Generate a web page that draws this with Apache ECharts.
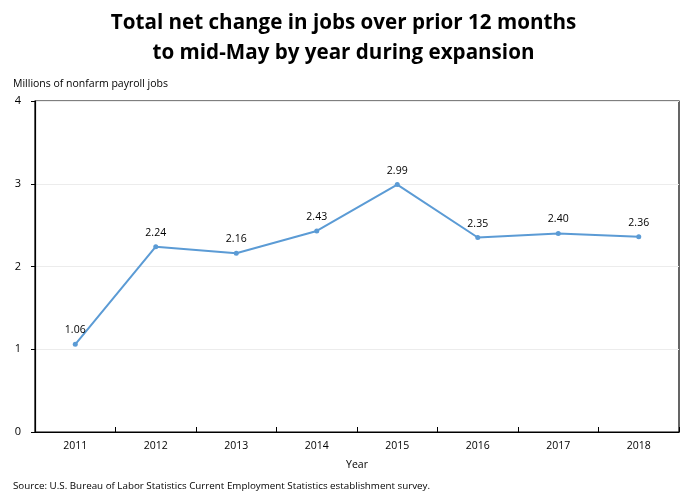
<!DOCTYPE html>
<html><head><meta charset="utf-8">
<script src="https://cdn.jsdelivr.net/npm/echarts@6/dist/echarts.min.js"></script>
<style>html,body{margin:0;padding:0;background:#fff}#c{width:687px;height:498px}</style>
</head><body><div id="c"></div>
<script>
var years = ['2011','2012','2013','2014','2015','2016','2017','2018'];
var jobs = [1.06, 2.24, 2.16, 2.43, 2.99, 2.35, 2.40, 2.36];
var yTicks = [0, 1, 2, 3, 4];
var F = '"Open Sans", "Noto Sans", sans-serif';
var chart = echarts.init(document.getElementById('c'), null, {renderer:'canvas'});
chart.setOption({
  animation:false,
  backgroundColor:'#fff',
  title:[{
    text:'Total net change in jobs over prior 12 months\nto mid-May by year during expansion',
    left:'center', top:3,
    textStyle:{fontFamily:F, fontSize:20.6, fontWeight:'bold', color:'#000', lineHeight:30}
  },{
    text:'Millions of nonfarm payroll jobs', left:8, top:74,
    textStyle:{fontFamily:F, fontSize:10.5, fontWeight:'normal', color:'#000'}
  },{
    text:'Source: U.S. Bureau of Labor Statistics Current Employment Statistics establishment survey.',
    left:8, top:476,
    textStyle:{fontFamily:F, fontSize:9.8, fontWeight:'normal', color:'#000'}
  }],
  grid:{left:35, right:8, top:101, bottom:66, show:true, borderColor:'#000', borderWidth:1.2, backgroundColor:'transparent'},
  xAxis:{
    type:'category', data:years, boundaryGap:true,
    name:'Year', nameLocation:'middle', nameGap:28,
    nameTextStyle:{fontFamily:F, fontSize:10.5, color:'#000'},
    axisLine:{lineStyle:{color:'#000', width:1.2}},
    axisTick:{show:true, inside:true, length:5, lineStyle:{color:'#000'}},
    axisLabel:{fontFamily:F, fontSize:10.5, color:'#000', margin:9}
  },
  yAxis:{
    type:'value', min:yTicks[0], max:yTicks[yTicks.length-1], interval:1,
    axisLine:{show:true, lineStyle:{color:'#000', width:1.2}},
    axisTick:{show:true, length:4, lineStyle:{color:'#000'}},
    axisLabel:{fontFamily:F, fontSize:11, color:'#000', margin:14},
    splitLine:{show:true, lineStyle:{color:'#ececec', width:1}}
  },
  series:[{
    type:'line', data:jobs,
    symbol:'circle', symbolSize:5,
    lineStyle:{color:'#5b9bd5', width:2},
    itemStyle:{color:'#5b9bd5'},
    label:{show:true, position:'top', distance:6, fontFamily:F, fontSize:10.5, color:'#000',
      formatter:function(p){return p.value.toFixed(2);}}
  }]
});
</script></body></html>
